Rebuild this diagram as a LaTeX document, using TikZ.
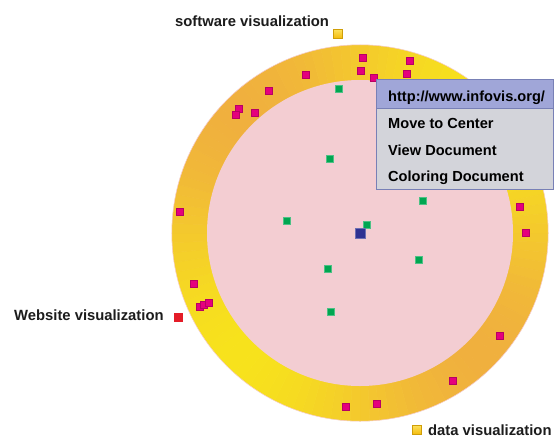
\documentclass[tikz,border=0pt]{standalone}
\usepackage{fontspec}
\setmainfont{Liberation Sans}
\definecolor{ringO}{RGB}{240,176,62}
\definecolor{ringY}{RGB}{247,226,28}
\definecolor{pinkin}{RGB}{243,205,210}
\definecolor{rimc}{RGB}{246,205,212}
\definecolor{mag}{RGB}{229,0,125}
\definecolor{grn}{RGB}{0,166,81}
\definecolor{navy}{RGB}{46,49,146}
\definecolor{redm}{RGB}{228,28,40}
\definecolor{gold}{RGB}{244,186,10}
\definecolor{goldl}{RGB}{252,224,90}
\definecolor{menuhead}{RGB}{160,166,216}
\definecolor{menubg}{RGB}{211,212,218}
\definecolor{menuline}{RGB}{120,128,182}
\definecolor{txt}{RGB}{28,28,28}
\tikzset{
  sq/.style={rectangle, inner sep=0pt, outer sep=0pt},
  magsq/.style={sq, fill=mag, draw=mag!80!black, line width=0.3pt, minimum size=7pt},
  grnsq/.style={sq, fill=grn, draw=grn!70!white, line width=0.3pt, minimum size=7pt},
  ctrsq/.style={sq, fill=navy, draw=navy!70!white, line width=0.3pt, minimum size=10pt},
  goldsq/.style={sq, top color=goldl, bottom color=gold, draw=gold!85!black, line width=0.3pt, minimum size=9pt},
  redsq/.style={sq, fill=redm, minimum size=9pt},
  lbl/.style={inner sep=0pt, text=txt, font=\fontsize{14.8}{17}\selectfont\bfseries},
  menutxt/.style={inner sep=0pt, text=black, font=\fontsize{14.6}{17}\selectfont\bfseries, anchor=base west}
}
\begin{document}
\begin{tikzpicture}[x=1pt,y=-1pt]
\useasboundingbox[fill=white] (0,0) rectangle (560,437);
\coordinate (c) at (360,233);
% ring with saddle-like colour gradient
\foreach \a in {0,3,...,357}{
  \pgfmathsetmacro\b{\a+3}
  \pgfmathsetmacro\p{50-50*cos(2*(\a+1.5-45))}
  \fill[ringY!\p!ringO, draw=ringY!\p!ringO, line width=0.5pt]
    (c) -- ([shift={(c)}]\a:188) arc[start angle=\a, end angle=\b, radius=188] -- cycle;
}
\draw[rimc, line width=0.5pt] (c) circle[radius=188.2];
\fill[pinkin] (c) circle[radius=153];

% magenta squares (ring)
\node[magsq] (m1) at (363,58) {};
\node[magsq] (m2) at (410,61) {};
\node[magsq] (m3) at (361,71) {};
\node[magsq] (m4) at (407,74) {};
\node[magsq] (m5) at (374,78) {};
\node[magsq] (m6) at (306,75) {};
\node[magsq] (m7) at (269,91) {};
\node[magsq] (m8) at (239,109) {};
\node[magsq] (m9) at (236,115) {};
\node[magsq] (m10) at (255,113) {};
\node[magsq] (m11) at (180,212) {};
\node[magsq] (m12) at (520,207) {};
\node[magsq] (m13) at (526,233) {};
\node[magsq] (m14) at (500,336) {};
\node[magsq] (m15) at (194,284) {};
\node[magsq] (m16) at (200,307) {};
\node[magsq] (m17) at (204,305) {};
\node[magsq] (m18) at (209,303) {};
\node[magsq] (m19) at (346,407) {};
\node[magsq] (m20) at (377,404) {};
\node[magsq] (m21) at (453,381) {};

% green squares
\node[grnsq] (g1) at (339,89) {};
\node[grnsq] (g2) at (330,159) {};
\node[grnsq] (g3) at (287,221) {};
\node[grnsq] (g4) at (423,201) {};
\node[grnsq] (g5) at (367,225) {};
\node[grnsq] (g6) at (328,269) {};
\node[grnsq] (g7) at (419,260) {};
\node[grnsq] (g8) at (331,312) {};

% centre
\node[ctrsq] (ctr) at (360,233) {};

% labels and markers
\node[goldsq] (swm) at (338,34) {};
\node[lbl, anchor=base west] (swt) at (175,26) {software visualization};
\node[redsq] (wsm) at (178,317) {};
\node[lbl, anchor=base west] (wst) at (14,320) {Website visualization};
\node[goldsq] (dvm) at (417,430) {};
\node[lbl, anchor=base west] (dvt) at (428,435) {data visualization};

% popup menu
\fill[menubg] (376,79) rectangle (553,189);
\fill[menuhead] (376,79) rectangle (553,108);
\draw[menuline, line width=0.6pt] (376,108) -- (553,108);
\draw[menuline, line width=0.8pt] (376,79) rectangle (553,189);
\node[menutxt] (mi0) at (388,101) {http://www.infovis.org/};
\node[menutxt] (mi1) at (388,128) {Move to Center};
\node[menutxt] (mi2) at (388,155) {View Document};
\node[menutxt] (mi3) at (388,181) {Coloring Document};
\end{tikzpicture}
\end{document}
